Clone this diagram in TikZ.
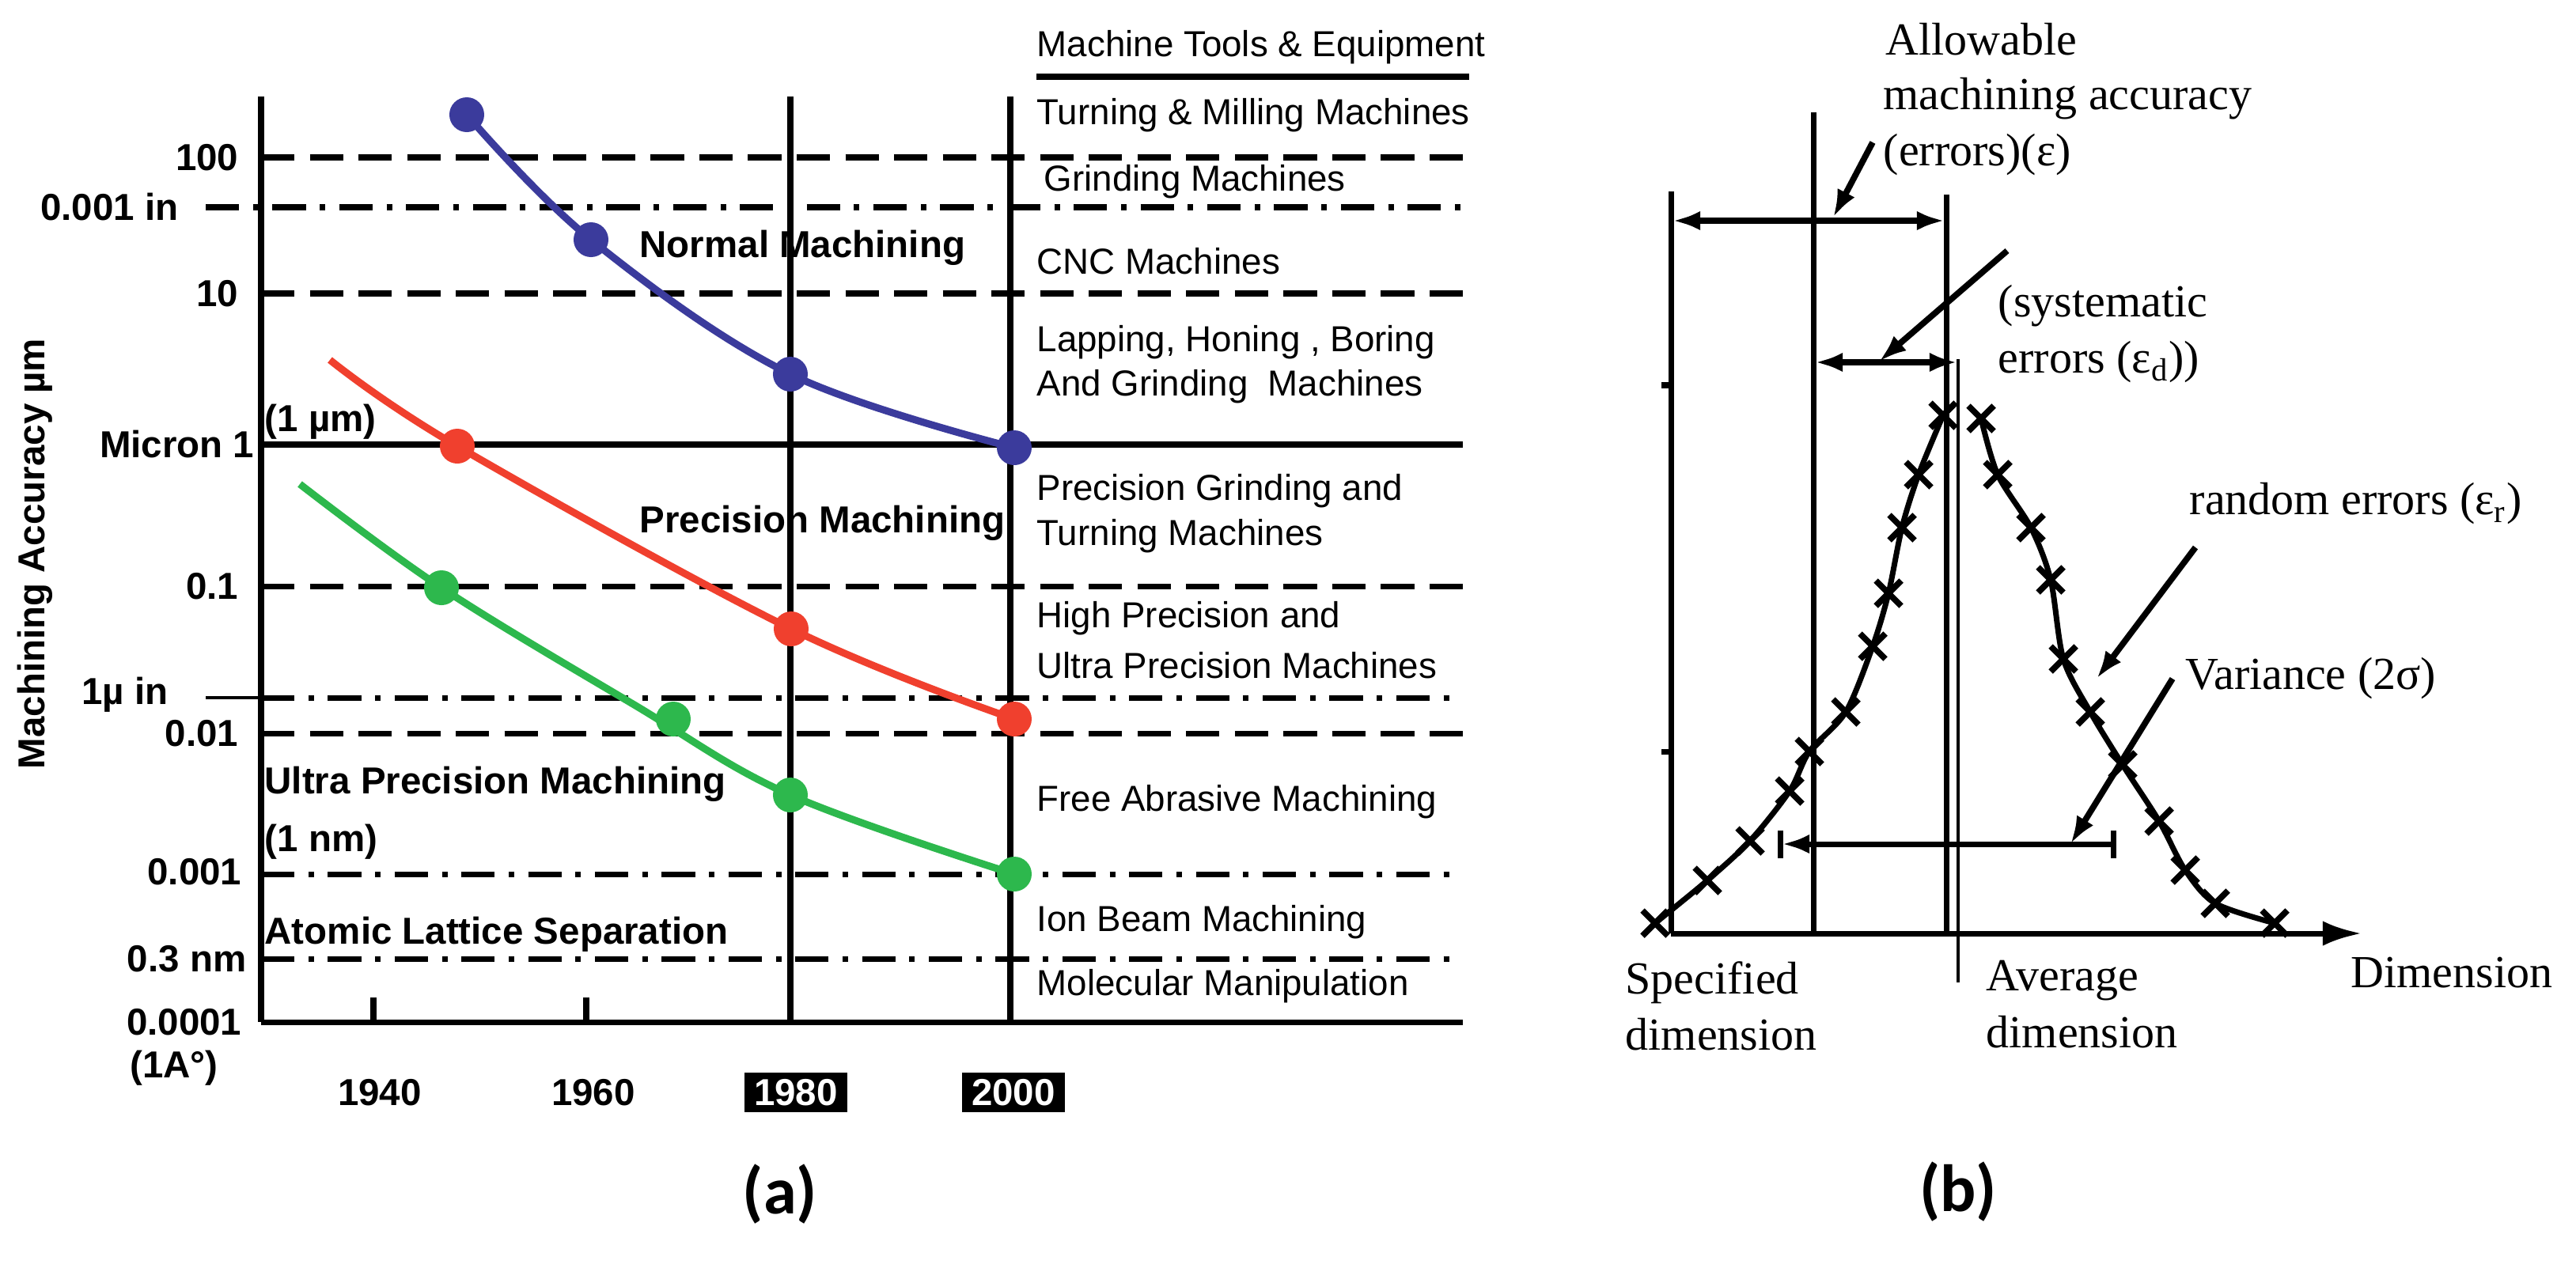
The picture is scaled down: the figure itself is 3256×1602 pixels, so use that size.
\documentclass[tikz,border=0pt]{standalone}
\usepackage{fontspec}
\setmainfont{Liberation Sans}
\newfontfamily\serifb{Liberation Serif}
\newfontfamily\capf{Carlito}
\usetikzlibrary{arrows.meta}
\definecolor{cblue}{HTML}{3B3B9C}
\definecolor{cred}{HTML}{F0402E}
\definecolor{cgreen}{HTML}{2DB84D}
\tikzset{
 grid dash/.style={line width=2pt,dash pattern=on 12pt off 5.5pt},
 grid dot/.style={line width=2pt,dash pattern=on 12pt off 5pt on 2pt off 5pt},
 solidl/.style={line width=2pt},
 lab/.style={font=\fontsize{13.5}{15}\selectfont\bfseries,inner sep=0pt},
 tick/.style={lab,anchor=east},
 col/.style={font=\fontsize{13}{15}\selectfont,inner sep=0pt,anchor=west},
 curve/.style={line width=2.6pt},
 dotp/.style={circle,inner sep=0pt,minimum size=0.44cm},
 yearbox/.style={lab,fill=black,text=white,minimum width=1.3cm,minimum height=0.5cm},
 stxt/.style={font=\serifb\fontsize{16.5}{18}\selectfont,inner sep=0pt,anchor=west},
 bline/.style={line width=2pt},
 ldr/.style={line width=2.2pt,-{Latex[length=10pt,width=7pt]}},
 xm/.style={line width=2.2pt},
}
\begin{document}
\begin{tikzpicture}[x=0.01cm,y=-0.01cm]
\useasboundingbox (0,0) rectangle (3256,1602);
% ---------- (a) ----------
\draw[grid dash] (330,199) -- (1849,199);
\draw[grid dot] (260,262) -- (1849,262);
\draw[grid dash] (330,371) -- (1849,371);
\draw[solidl] (330,562) -- (1849,562);
\draw[grid dash] (330,741) -- (1849,741);
\draw[line width=1pt] (260,882) -- (330,882);
\draw[grid dot] (330,882) -- (1849,882);
\draw[grid dash] (330,927) -- (1849,927);
\draw[grid dot] (330,1105) -- (1849,1105);
\draw[grid dot] (330,1212) -- (1849,1212);
\draw[solidl] (330,1292) -- (1849,1292);
\draw[solidl] (330,122) -- (330,1292);
\draw[solidl] (999,122) -- (999,1292);
\draw[solidl] (1277,122) -- (1277,1292);
\draw[solidl] (472,1261) -- (472,1292);
\draw[solidl] (741,1261) -- (741,1292);
\draw[solidl] (1310,97) -- (1857,97);
% curves
\draw[curve,cblue] plot[smooth,tension=0.6] coordinates {(590,145) (747,303) (999,473) (1282,566)};
\draw[curve,cred] plot[smooth,tension=0.6] coordinates {(417,455) (578,564) (1000,795) (1282,909)};
\draw[curve,cgreen] plot[smooth,tension=0.6] coordinates {(379,612) (558,743) (800,890) (999,1005) (1282,1105)};
\foreach \p/\c in {590/145,747/303,999/473,1282/566} \node[dotp,fill=cblue] at (\p,\c) {};
\foreach \p/\c in {578/564,1000/795,1282/909} \node[dotp,fill=cred] at (\p,\c) {};
\foreach \p/\c in {558/743,851/909,999/1005,1282/1105} \node[dotp,fill=cgreen] at (\p,\c) {};
% y labels
\node[tick] (t100) at (302,199) {100};
\node[tick] (tin) at (226,262) {0.001 in};
\node[tick] (t10) at (302,371) {10};
\node[tick] (tmic) at (322,562) {Micron 1};
\node[tick] (t01) at (302,741) {0.1};
\node[tick] (tuin) at (213,878) {1µ in};
\node[tick] (t001) at (302,927) {0.01};
\node[tick] (t0001) at (306,1102) {0.001};
\node[tick] (tnm) at (312,1212) {0.3 nm};
\node[tick] (t00001) at (306,1292) {0.0001};
\node[lab] (tA) at (220,1350) {(1A°)};
\node[lab,rotate=90] (ytitle) at (44,700) {Machining Accuracy µm};
% in-chart labels
\node[lab,anchor=west] (nm) at (808,313) {Normal Machining};
\node[lab,anchor=west] (pm) at (808,661) {Precision Machining};
\node[lab,anchor=south west] (um) at (334,556) {(1 µm)};
\node[lab,anchor=west] (upm) at (334,991) {Ultra Precision Machining};
\node[lab,anchor=west] (onenm) at (334,1064) {(1 nm)};
\node[lab,anchor=west] (als) at (334,1181) {Atomic Lattice Separation};
% years
\node[lab] (y40) at (480,1381) {1940};
\node[lab] (y60) at (750,1381) {1960};
\node[yearbox] (y80) at (1006,1381) {1980};
\node[yearbox] (y00) at (1281,1381) {2000};
% column
\node[col] (h) at (1310,60) {Machine Tools \& Equipment};
\node[col] (c1) at (1310,146) {Turning \& Milling Machines};
\node[col] (c2) at (1319,230) {Grinding Machines};
\node[col] (c3) at (1310,330) {CNC Machines};
\node[col] (c4) at (1310,433) {Lapping, Honing , Boring};
\node[col] (c4b) at (1310,489) {And Grinding\ \ Machines};
\node[col] (c5) at (1310,621) {Precision Grinding and};
\node[col] (c5b) at (1310,678) {Turning Machines};
\node[col] (c6) at (1310,782) {High Precision and};
\node[col] (c6b) at (1310,841) {Ultra Precision Machines};
\node[col] (c7) at (1310,1014) {Free Abrasive Machining};
\node[col] (c8) at (1310,1166) {Ion Beam Machining};
\node[col] (c9) at (1310,1247) {Molecular Manipulation};
\node[font=\capf\fontsize{24}{28}\selectfont\bfseries] (capa) at (986,1510) {(a)};
% ---------- (b) ----------
\coordinate (o) at (2112,1180);
\coordinate (xend) at (2985,1180);
\draw[bline,-{Latex[length=14pt,width=9pt]}] (o) -- (xend);
\draw[bline] (2112,242) -- (o);
\draw[bline] (2292,142) -- (2292,1180);
\draw[bline] (2460,246) -- (2460,1180);
\draw[line width=1.4pt] (2475,454) -- (2475,1242);
\draw[bline] (2100,487) -- (2112,487);
\draw[bline] (2100,950) -- (2112,950);
\draw[bline,{Latex[length=10pt,width=7pt]}-{Latex[length=10pt,width=7pt]}] (2114,279) -- (2458,279);
\draw[bline,{Latex[length=10pt,width=7pt]}-{Latex[length=10pt,width=7pt]}] (2294,458) -- (2474,458);
\draw[bline,{Latex[length=10pt,width=7pt]}-] (2252,1067) -- (2671,1067);
\draw[bline] (2250,1050) -- (2250,1085);
\draw[bline] (2671,1050) -- (2671,1085);
\draw[ldr] (2367,180) -- (2317,275);
\draw[ldr] (2537,317) -- (2375,457);
\draw[ldr] (2775,692) -- (2650,858);
\draw[ldr] (2746,858) -- (2617,1067);
\draw[bline] plot[smooth,tension=0.5] coordinates {(2092,1167) (2158,1113) (2212,1063) (2262,1000) (2287,950) (2333,900) (2367,817) (2387,750) (2404,667) (2425,600) (2456,525)};
\draw[bline] plot[smooth,tension=0.5] coordinates {(2504,529) (2525,600) (2567,667) (2592,733) (2608,833) (2642,900) (2683,967) (2729,1038) (2762,1100) (2800,1142) (2875,1167)};
\foreach \p/\c in {2092/1167,2158/1113,2212/1063,2262/1000,2287/950,2333/900,2367/817,2387/750,2404/667,2425/600,2456/525,2504/529,2525/600,2567/667,2592/733,2608/833,2642/900,2683/967,2729/1038,2762/1100,2800/1142,2875/1167}
  \draw[xm] (\p-16,\c-16) -- (\p+16,\c+16) (\p-16,\c+16) -- (\p+16,\c-16);
\node[stxt] (al1) at (2383,50) {Allowable};
\node[stxt] (al2) at (2380,125) {machining accuracy};
\node[stxt] (al3) at (2380,196) {(errors)(ε)};
\node[stxt] (sy1) at (2525,387) {(systematic};
\node[stxt] (sy2) at (2525,458) {errors (ε\textsubscript{d}))};
\node[stxt] (re) at (2767,637) {random errors (ε\textsubscript{r})};
\node[stxt] (va) at (2762,858) {Variance (2σ)};
\node[stxt] (sp1) at (2054,1242) {Specified};
\node[stxt] (sp2) at (2054,1308) {dimension};
\node[stxt] (av1) at (2510,1240) {Average};
\node[stxt] (av2) at (2510,1305) {dimension};
\node[stxt] (dim) at (2971,1230) {Dimension};
\node[font=\capf\fontsize{24}{28}\selectfont\bfseries] (capb) at (2475,1507) {(b)};
\end{tikzpicture}
\end{document}
